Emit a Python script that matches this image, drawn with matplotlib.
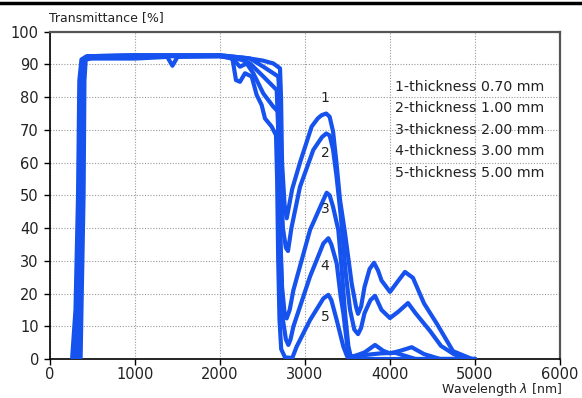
import matplotlib
matplotlib.use("Agg")
import matplotlib.pyplot as plt
from matplotlib.lines import Line2D

# wavelength (nm) / transmittance (%), one pair per thickness
c1_x = [260, 300, 330, 345, 370, 430, 1000, 2000, 2300, 2500, 2627, 2706, 2718, 2730, 2760, 2785,
        2850, 2941, 3078, 3150, 3196, 3250, 3290, 3330, 3370, 3412, 3471, 3549, 3600, 3624, 3660,
        3700, 3760, 3812, 3860, 3900, 4000, 4100, 4176, 4270, 4400, 4553, 4741, 4965, 5000]
c1_y = [0, 15, 50, 85, 91.5, 92.5, 92.8, 92.8, 92.0, 91.2, 90.3, 88.8, 80, 60, 47, 43,
        52, 60, 71, 73.5, 74.5, 75, 74, 69.5, 60, 48.6, 38.4, 23.1, 16, 13.8, 16,
        22, 27.5, 29.4, 27, 24, 20.5, 24, 26.6, 24.8, 17, 10.7, 2.4, 0, 0]

c2_x = [280, 315, 345, 360, 385, 445, 1000, 2000, 2353, 2510, 2686, 2700, 2715, 2740, 2775, 2800,
        2840, 2941, 3098, 3200, 3250, 3290, 3330, 3370, 3420, 3480, 3530, 3580, 3624, 3660, 3700,
        3770, 3824, 3900, 4000, 4100, 4212, 4300, 4470, 4600, 4750, 4900, 5000]
c2_y = [0, 15, 50, 85, 91.5, 92.5, 92.8, 92.8, 91.8, 89.3, 86.3, 80, 55, 40, 34, 33,
        40, 52.6, 63.9, 67.8, 68.9, 68.3, 64, 56, 44, 26, 15, 9, 7.6, 9.5, 14,
        18, 19.3, 15, 12.5, 14.5, 17.1, 14, 8.6, 4, 1.5, 0, 0]

c3_x = [300, 330, 360, 375, 400, 460, 1000, 2000, 2255, 2353, 2510, 2667, 2685, 2700, 2730, 2760,
        2784, 2820, 2863, 3059, 3216, 3255, 3290, 3330, 3392, 3430, 3471, 3510, 3540, 3700, 3824,
        3920, 4000, 4120, 4255, 4400, 4590, 5000]
c3_y = [0, 15, 50, 85, 91.5, 92.5, 92.6, 92.6, 91.4, 90.3, 86.3, 82.2, 70, 45, 22, 14,
        12.4, 15, 21, 39.4, 48.6, 50.8, 50, 46.5, 39.4, 28, 14, 4, 0.5, 2, 4.3,
        2.5, 1.7, 2.5, 3.6, 1.5, 0, 0]

c4_x = [325, 345, 375, 390, 410, 475, 1000, 2000, 2150, 2200, 2235, 2314, 2392, 2510, 2627, 2682,
        2695, 2710, 2740, 2775, 2804, 2830, 2863, 3059, 3216, 3275, 3310, 3373, 3420, 3451, 3498,
        3530, 3700, 3880, 4060, 4200, 4300, 5000]
c4_y = [0, 15, 50, 85, 91.5, 92.5, 92.5, 92.5, 91.8, 90.3, 89.3, 90.3, 87.3, 81.1, 77.1, 75.6,
        60, 35, 12, 6, 4.3, 6, 9.9, 25.2, 35.3, 36.9, 35, 29.2, 19, 14, 3.8,
        0.8, 1.2, 1.7, 1.9, 0.8, 0, 0]

c5_x = [360, 370, 395, 405, 420, 490, 1000, 1380, 1440, 1500, 2000, 2100, 2149, 2188, 2235, 2294,
        2373, 2431, 2490, 2529, 2608, 2659, 2672, 2685, 2700, 2720, 2765, 2850, 2902, 3059, 3216,
        3275, 3310, 3373, 3451, 3494, 3520, 5000]
c5_y = [0, 15, 50, 85, 91.5, 91.8, 91.8, 92.3, 89.6, 92.3, 92.5, 92.4, 91.4, 85.2, 84.7, 87.3,
        86.3, 80.7, 77.6, 73.5, 71, 68.4, 55, 30, 12, 3, 0.5, 0.3, 3.8, 11.9, 18.5,
        19.6, 18, 11.9, 3.8, 0.9, 0, 0]

curves = [(c1_x, c1_y), (c2_x, c2_y), (c3_x, c3_y), (c4_x, c4_y), (c5_x, c5_y)]
legend_lines = ["1-thickness 0.70 mm", "2-thickness 1.00 mm", "3-thickness 2.00 mm",
                "4-thickness 3.00 mm", "5-thickness 5.00 mm"]
curve_tags = ["1", "2", "3", "4", "5"]
tag_x = [3235, 3235, 3235, 3235, 3235]
tag_y = [79.8, 63, 45.9, 28.4, 12.8]

BLUE = "#1652ee"
TXT = "#222222"
W, H = 582, 398

fig = plt.figure(figsize=(W/100, H/100), dpi=100)
ax = fig.add_axes([50/W, 1-359/H, 510/W, (359-31.7)/H])

for x, y in curves:
    ax.plot(x, y, color=BLUE, lw=3.0, solid_joinstyle="round", solid_capstyle="round", zorder=3)

ax.set_xlim(0, 6000); ax.set_ylim(0, 100)
ax.set_xticks(range(0, 6001, 1000)); ax.set_yticks(range(0, 101, 10))
ax.grid(color="#9a9a9a", ls=(0, (1, 1.5)), lw=0.8, zorder=0)
ax.tick_params(direction="out", length=4.5, width=1, labelsize=10.5, colors="black",
               labelcolor=TXT)
ax.tick_params(axis="x", pad=1.5)
ax.tick_params(axis="y", pad=3.5)
for s in ("left", "bottom"):
    ax.spines[s].set_color("black"); ax.spines[s].set_linewidth(1.2)
for s in ("top", "right"):
    ax.spines[s].set_color("#555555"); ax.spines[s].set_linewidth(1.6)

for t, xx, yy in zip(curve_tags, tag_x, tag_y):
    ax.text(xx, yy, t, fontsize=10, color=TXT, ha="center", va="center")

for i, s in enumerate(legend_lines):
    fig.text(395/W, 1-(86.7+21.5*i)/H, s, fontsize=10.2, color=TXT, ha="left", va="center")

fig.text(49/W, 1-18/H, "Transmittance [%]", fontsize=9, color=TXT, ha="left", va="center")
fig.text(562/W, 1-390/H, "Wavelength $\\lambda$ [nm]", fontsize=9, color=TXT, ha="right", va="center")

fig.add_artist(Line2D([0, 1], [1-3/H, 1-3/H], color="black", lw=2.5, transform=fig.transFigure))

fig.savefig("out.png", dpi=100)
